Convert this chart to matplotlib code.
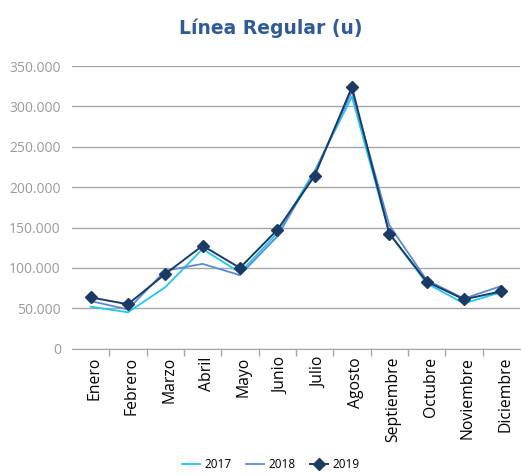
import matplotlib.pyplot as plt
from matplotlib.ticker import FuncFormatter, FixedLocator
from matplotlib.transforms import ScaledTranslation
import numpy as np

# ==================== Data ====================
months = ["Enero", "Febrero", "Marzo", "Abril", "Mayo", "Junio", "Julio",
          "Agosto", "Septiembre", "Octubre", "Noviembre", "Diciembre"]
v2017 = [52000, 45000, 76000, 123500, 94000, 143000, 220000,
         312000, 143000, 81000, 56000, 70000]
v2018 = [59000, 48500, 96500, 105000, 91000, 139000, 218000,
         318500, 153000, 85000, 62000, 77500]
v2019 = [63500, 55000, 92500, 127500, 100000, 147000, 214000,
         324000, 142500, 83000, 61000, 71000]

plt.rcParams['font.family'] = ['Open Sans', 'DejaVu Sans']

fig = plt.figure(figsize=(5.21, 4.75), dpi=100)
ax = fig.add_axes([0.138, 0.266, 0.86, 0.595])

x = np.arange(len(months))
ax.plot(x, v2017, color='#1ec8f3', lw=1.3, label='2017', zorder=3)
ax.plot(x, v2018, color='#5a8ad6', lw=1.3, label='2018', zorder=3)
ax.plot(x, v2019, color='#1b3a64', lw=1.4, marker='D', markersize=6,
        label='2019', zorder=4)

ax.set_xlim(-0.5, len(months) - 0.5)
ax.set_ylim(0, 350000)
ax.set_yticks(np.arange(0, 350001, 50000))
ax.yaxis.set_major_formatter(FuncFormatter(lambda v, p: f"{int(v):,}".replace(",", ".")))
ax.grid(axis='y', color='#a6a6a6', lw=1)
ax.set_axisbelow(True)

ax.set_xticks(x)
ax.set_xticklabels(months, rotation=90, fontsize=11.3, color='#000000')
ax.tick_params(axis='x', length=0, pad=6)
shift = ScaledTranslation(4 / 100, 0, fig.dpi_scale_trans)
for lbl in ax.get_xticklabels():
    lbl.set_transform(lbl.get_transform() + shift)
ax.xaxis.set_minor_locator(FixedLocator(np.arange(0.5, len(months) - 0.5, 1)))
ax.tick_params(axis='x', which='minor', length=5, color='#a6a6a6', width=1)
ax.tick_params(axis='y', length=0, labelsize=10, labelcolor='#9a9a9a', pad=8)

for s in ['top', 'right', 'left']:
    ax.spines[s].set_visible(False)
ax.spines['bottom'].set_color('#a6a6a6')

fig.text(0.52, 0.94, "Línea Regular (u)", ha='center', va='center',
         fontsize=13.5, fontweight='bold', color='#2f5a94', family='DejaVu Sans')

fig.legend(loc='center', bbox_to_anchor=(0.52, 0.022), ncol=3, frameon=False,
           fontsize=8.5, handlelength=1.5, columnspacing=1.2, handletextpad=0.4)

fig.savefig("out.png", dpi=100)
